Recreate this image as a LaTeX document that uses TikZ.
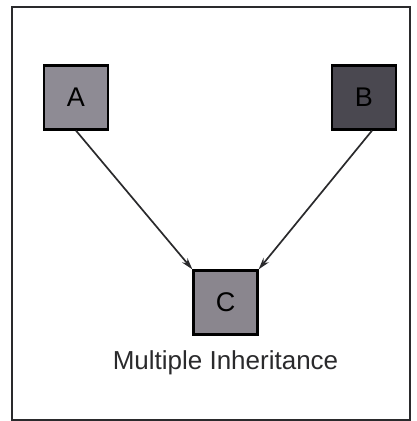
\documentclass[tikz,border=0pt]{standalone}
\usepackage{fontspec}
\setmainfont{Liberation Sans}
\usetikzlibrary{arrows.meta,positioning}
\definecolor{Ink}{HTML}{2A2A2C}
\definecolor{GrayA}{HTML}{8E8B94}
\definecolor{GrayB}{HTML}{4A4850}
\definecolor{GrayC}{HTML}{8A868E}
\tikzset{cls/.style={draw=black,line width=2.2pt,minimum size=64pt,inner sep=0pt,font=\fontsize{27}{29}\selectfont},link/.style={-{Stealth[length=12pt,width=7pt]},line width=1.7pt,draw=Ink}}
\begin{document}
\begin{tikzpicture}[x=1pt,y=-1pt]
      \useasboundingbox (0,0) rectangle (416,421);
      \draw[Ink,line width=1.6pt](12,7) rectangle (410,420);
      \node[cls,fill=GrayA](A) at (76,97.5){A};
      \node[cls,fill=GrayB](B) at (364,97.5){B};
      \node[cls,fill=GrayC](C) at (225.5,302.5){C};
      \node[font=\fontsize{26}{28}\selectfont,text=Ink,below=12pt of C](caption){Multiple Inheritance};
      \draw[link](A.south)--(C.north west);\draw[link]([xshift=8pt]B.south)--(C.north east);
    \end{tikzpicture}
\end{document}
